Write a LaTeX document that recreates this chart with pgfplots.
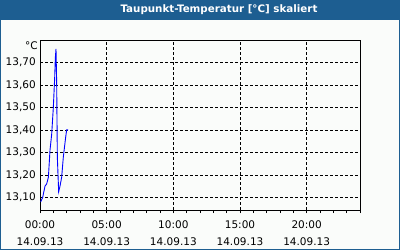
\documentclass[border=0pt]{standalone}
\usepackage{pgfplots}
\pgfplotsset{compat=1.18}
\usepackage{fontspec}
\setmainfont{DejaVu Sans}
\definecolor{barblue}{RGB}{29,94,145}
\definecolor{bg}{RGB}{250,252,250}
\begin{document}
\begin{tikzpicture}
\useasboundingbox (0bp,0bp) rectangle (400bp,250bp);
\fill[bg] (0bp,0bp) rectangle (400bp,250bp);
\fill[barblue] (0bp,229.5bp) rectangle (400bp,250bp);
\draw[barblue, line width=1.2bp] (0.6bp,0.6bp) rectangle (399.4bp,249.4bp);
\node[white, font=\bfseries\fontsize{10.3bp}{12bp}\selectfont] at (219bp,240bp) {Taupunkt-Temperatur [°C] skaliert};
\node[anchor=east, inner sep=0pt, font=\fontsize{10.5bp}{12bp}\selectfont] at (38bp,204bp) {°C};
\begin{axis}[
  at={(40bp,40bp)}, anchor=south west,
  scale only axis, width=320bp, height=170bp,
  xmin=0, xmax=24, ymin=13.044, ymax=13.80,
  xtick={0,5,10,15,20},
  xticklabels={{00:00\\14.09.13},{05:00\\14.09.13},{10:00\\14.09.13},{15:00\\14.09.13},{20:00\\14.09.13}},
  minor xtick={0,1,...,24},
  ytick={13.1,13.2,13.3,13.4,13.5,13.6,13.7},
  yticklabels={13{,}10,13{,}20,13{,}30,13{,}40,13{,}50,13{,}60,13{,}70},
  grid=major,
  major grid style={black, dash pattern=on 3bp off 2bp, line width=0.8bp},
  axis line style={black, line width=1bp},
  xtick pos=bottom, xtick align=outside,
  x tick style={black, line width=0.8bp},
  ytick style={draw=none},
  major tick length=3bp, minor tick length=3bp,
  yticklabel style={inner sep=0pt, xshift=-4bp, font=\fontsize{10.5bp}{12bp}\selectfont},
  xticklabel style={inner sep=0pt, align=center, yshift=-7.5bp, font=\fontsize{10.5bp}{17bp}\selectfont},
]
\addplot[blue, line width=0.9bp] coordinates {
(0.05,13.08) (0.2,13.10) (0.375,13.15) (0.5,13.16) (0.63,13.19) (0.75,13.31)
(0.875,13.38) (1.0,13.50) (1.1,13.63) (1.15,13.72) (1.2,13.76) (1.25,13.61)
(1.3,13.28) (1.4,13.125) (1.5,13.15) (1.625,13.19) (1.75,13.28) (1.93,13.37)
(2.0,13.40) (2.1,13.40)
};
\end{axis}
\end{tikzpicture}
\end{document}
